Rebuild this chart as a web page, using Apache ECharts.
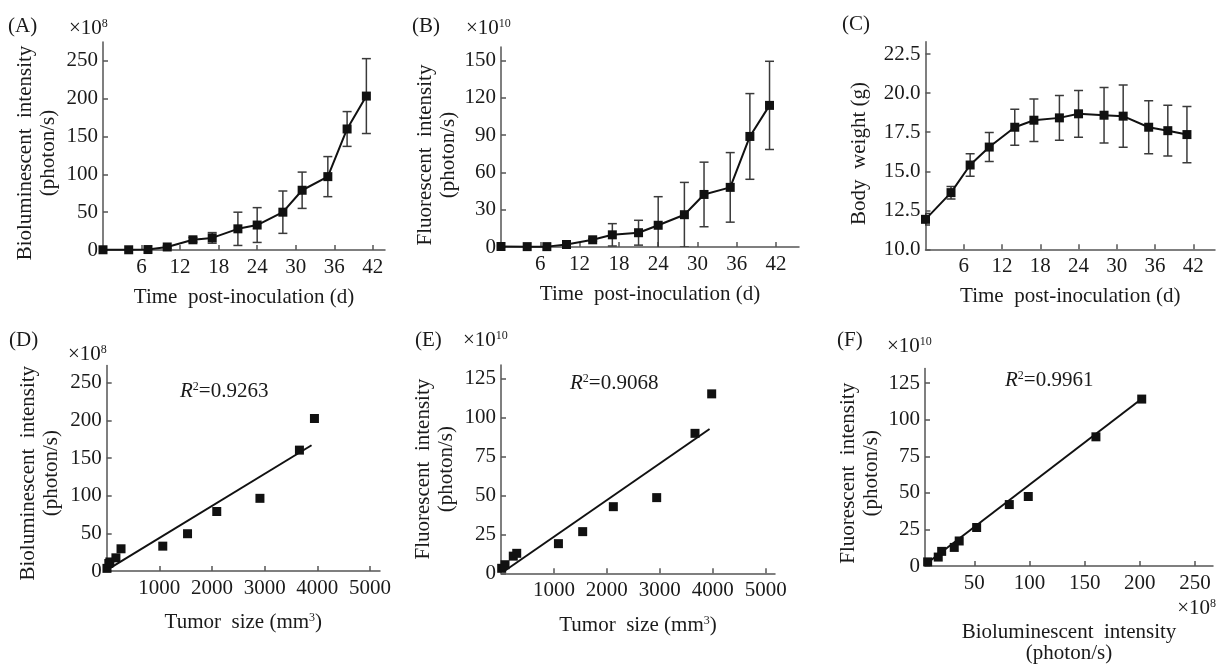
<!DOCTYPE html>
<html>
<head>
<meta charset="utf-8">
<script src="https://cdn.jsdelivr.net/npm/echarts@6/dist/echarts.min.js"></script>
<style>
html,body{margin:0;padding:0;background:#fff;}
#main{width:1216px;height:665px;}
</style>
</head>
<body>
<div id="main"></div>
<script>
// time course (days post-inoculation)
var days = [0, 4, 7, 10, 14, 17, 21, 24, 28, 31, 35, 38, 41];
var bioMean = [0.3, 0.3, 0.6, 4, 13.5, 16, 28, 33, 50, 79, 97, 160, 203.5];
var bioErr = [0, 0, 0, 1.5, 3, 7, 22, 23, 28, 24, 26.5, 23, 49.5];
var fluoMean = [0.4, 0.3, 0.3, 2, 5.8, 9.8, 11.5, 17.5, 26, 42.3, 48, 89, 114];
var fluoErr = [0, 0, 0, 0.5, 1, 9, 10, 23, 26, 26, 28, 34.5, 35.5];
var weightMean = [11.92, 13.63, 15.4, 16.55, 17.82, 18.27, 18.42, 18.68, 18.59, 18.53, 17.82, 17.6, 17.35];
var weightErr = [0.37, 0.4, 0.72, 0.93, 1.15, 1.36, 1.43, 1.5, 1.78, 2.0, 1.7, 1.63, 1.8];

// correlations [x, y]
var tumorVsBio = [[5,3.5],[40,10],[60,12],[175,17.5],[272,29.5],[1065,33],[1535,49.5],[2090,79],[2910,96.5],[3660,160.5],[3945,202.5]];
var tumorVsFluo = [[13,3.2],[76,5.5],[232,11],[297,12.8],[1085,19],[1543,26.7],[2122,42.7],[2941,48.5],[3665,89.7],[3980,115]];
var bioVsFluo = [[7.7,2.8],[17.3,6.1],[20.4,10],[31.8,12.7],[36.3,17.1],[52.1,26.3],[81.7,42],[98.9,47.5],[160.2,88.3],[201.7,114.1]];
var fitD = [[30, 2.5], [3890, 167]];
var fitE = [[45, 1], [3940, 92.5]];
var fitF = [[6.5, 1.5], [202, 114.5]];

// tick values
var dayTicks = [6, 12, 18, 24, 30, 36, 42];
var bioTicks = [0, 50, 100, 150, 200, 250];
var fluoTicks = [0, 30, 60, 90, 120, 150];
var weightTicks = [10, 12.5, 15, 17.5, 20, 22.5];
var tumorTicks = [1000, 2000, 3000, 4000, 5000];
var fluo2Ticks = [0, 25, 50, 75, 100, 125];
var bio2Ticks = [50, 100, 150, 200, 250];

var FONT = "'Liberation Serif','DejaVu Serif',serif";
var TXT = '#1a1a1a';
var AX = '#555';
var SUP = {fontFamily: FONT, fontSize: 12, color: TXT, verticalAlign: 'top', padding: [0, 0, 8, 0]};

function plain(v) { return String(v); }

function xAx(gi, min, max, ticks, name, gap) {
	return {
		type: 'value', gridIndex: gi, min: min, max: max,
		name: name, nameLocation: 'middle', nameGap: gap,
		nameTextStyle: {fontFamily: FONT, fontSize: 21, color: TXT, lineHeight: 21, rich: {s: SUP}},
		axisLine: {lineStyle: {color: AX, width: 1.5}},
		axisTick: {inside: true, length: 5, lineStyle: {color: AX, width: 1.5}, customValues: ticks},
		axisLabel: {fontFamily: FONT, fontSize: 21, color: TXT, margin: 7, customValues: ticks, formatter: plain},
		splitLine: {show: false}
	};
}
// shift: pushes the rotated name down by shift px
function yAx(gi, min, max, ticks, name, gap, shift, fmt) {
	return {
		type: 'value', gridIndex: gi, min: min, max: max,
		name: name, nameLocation: 'middle', nameGap: gap, nameRotate: 90,
		nameTextStyle: {fontFamily: FONT, fontSize: 21, color: TXT, lineHeight: 23, padding: [0, shift * 2, 0, 0]},
		axisLine: {lineStyle: {color: AX, width: 1.5}},
		axisTick: {inside: true, length: 5, lineStyle: {color: AX, width: 1.5}, customValues: ticks},
		axisLabel: {fontFamily: FONT, fontSize: 21, color: TXT, margin: 5, customValues: ticks, formatter: fmt || plain},
		splitLine: {show: false}
	};
}

function errSeries(i, mean, err) {
	var d = [];
	for (var k = 0; k < days.length; k++) {
		if (err[k] > 0) d.push([days[k], mean[k] - err[k], mean[k] + err[k]]);
	}
	return {
		type: 'custom', xAxisIndex: i, yAxisIndex: i, data: d, clip: true, z: 2,
		renderItem: function(params, api) {
			var lo = api.coord([api.value(0), api.value(1)]);
			var hi = api.coord([api.value(0), api.value(2)]);
			var w = 4.5;
			var st = {stroke: '#3a3a3a', lineWidth: 1.5};
			return {type: 'group', children: [
				{type: 'line', shape: {x1: lo[0], y1: lo[1], x2: hi[0], y2: hi[1]}, style: st},
				{type: 'line', shape: {x1: lo[0] - w, y1: lo[1], x2: lo[0] + w, y2: lo[1]}, style: st},
				{type: 'line', shape: {x1: hi[0] - w, y1: hi[1], x2: hi[0] + w, y2: hi[1]}, style: st}
			]};
		}
	};
}
function meanSeries(i, mean) {
	var d = [];
	for (var k = 0; k < days.length; k++) d.push([days[k], mean[k]]);
	return {
		type: 'line', xAxisIndex: i, yAxisIndex: i, data: d, z: 3,
		symbol: 'rect', symbolSize: 9, showSymbol: true,
		lineStyle: {color: '#111', width: 2}, itemStyle: {color: '#111'}
	};
}
function dotSeries(i, pts) {
	return {type: 'scatter', xAxisIndex: i, yAxisIndex: i, data: pts, z: 3,
		symbol: 'rect', symbolSize: 9, itemStyle: {color: '#111', opacity: 1}};
}
function fitSeries(i, pts) {
	return {type: 'line', xAxisIndex: i, yAxisIndex: i, data: pts, z: 2,
		symbol: 'none', lineStyle: {color: '#111', width: 2}};
}

function label(x, y, text, align) {
	return {type: 'text', x: x, y: y, silent: true, style: {
		text: text, fill: TXT, font: '21px ' + FONT,
		textAlign: align || 'left', textVerticalAlign: 'middle',
		rich: {
			a: {fontFamily: FONT, fontSize: 21, color: TXT},
			i: {fontFamily: FONT, fontSize: 21, color: TXT, fontStyle: 'italic'},
			s: SUP
		}
	}};
}

var chart = echarts.init(document.getElementById('main'));
var fmt1 = function(v) { return v.toFixed(1); };
var option = {
	backgroundColor: '#fff',
	animation: false,
	grid: [
		{left: 103, top: 42, width: 282, height: 208},
		{left: 501, top: 47, width: 298, height: 200},
		{left: 925.5, top: 41.7, width: 289.5, height: 207.6},
		{left: 106.7, top: 365.4, width: 273.3, height: 205.6},
		{left: 501, top: 365, width: 274, height: 208.3},
		{left: 925, top: 368.5, width: 288, height: 204}
	],
	xAxis: [
		xAx(0, 0, 43.9, dayTicks, 'Time  post-inoculation (d)', 37),
		xAx(1, 0, 45.5, dayTicks, 'Time  post-inoculation (d)', 37),
		xAx(2, 0, 45.4, dayTicks, 'Time  post-inoculation (d)', 37),
		xAx(3, 0, 5190, tumorTicks, 'Tumor  size (mm{s|3})', 41),
		xAx(4, 0, 5176, tumorTicks, 'Tumor  size (mm{s|3})', 42),
		xAx(5, 5.3, 266.3, bio2Ticks, 'Bioluminescent  intensity\n(photon/s)', 56)
	],
	yAxis: [
		yAx(0, 0, 275, bioTicks, 'Bioluminescent  intensity\n(photon/s)', 43, 7),
		yAx(1, 0, 161, fluoTicks, 'Fluorescent  intensity\n(photon/s)', 41, 8),
		yAx(2, 10, 23.3, weightTicks, 'Body  weight (g)', 55, 8, fmt1),
		yAx(3, 0, 273, bioTicks, 'Bioluminescent  intensity\n(photon/s)', 44, 5),
		yAx(4, 0, 133.5, fluo2Ticks, 'Fluorescent  intensity\n(photon/s)', 43, 0),
		yAx(5, 0, 135, fluo2Ticks, 'Fluorescent  intensity\n(photon/s)', 42, 6)
	],
	series: [
		errSeries(0, bioMean, bioErr), meanSeries(0, bioMean),
		errSeries(1, fluoMean, fluoErr), meanSeries(1, fluoMean),
		errSeries(2, weightMean, weightErr), meanSeries(2, weightMean),
		fitSeries(3, fitD), dotSeries(3, tumorVsBio),
		fitSeries(4, fitE), dotSeries(4, tumorVsFluo),
		fitSeries(5, fitF), dotSeries(5, bioVsFluo)
	],
	graphic: [
		label(8, 26, '(A)'), label(69, 28, '{a|×10}{s|8}'),
		label(412, 26, '(B)'), label(466, 28, '{a|×10}{s|10}'),
		label(842, 24, '(C)'),
		label(9, 340, '(D)'), label(68, 354, '{a|×10}{s|8}'),
		label(180, 391, '{i|R}{s|2}{a|=0.9263}'),
		label(415, 340, '(E)'), label(463, 340, '{a|×10}{s|10}'),
		label(570, 383, '{i|R}{s|2}{a|=0.9068}'),
		label(837, 340, '(F)'), label(887, 346, '{a|×10}{s|10}'),
		label(1005, 380, '{i|R}{s|2}{a|=0.9961}'),
		label(1216, 608, '{a|×10}{s|8}', 'right')
	]
};
chart.setOption(option);
</script>
</body>
</html>
